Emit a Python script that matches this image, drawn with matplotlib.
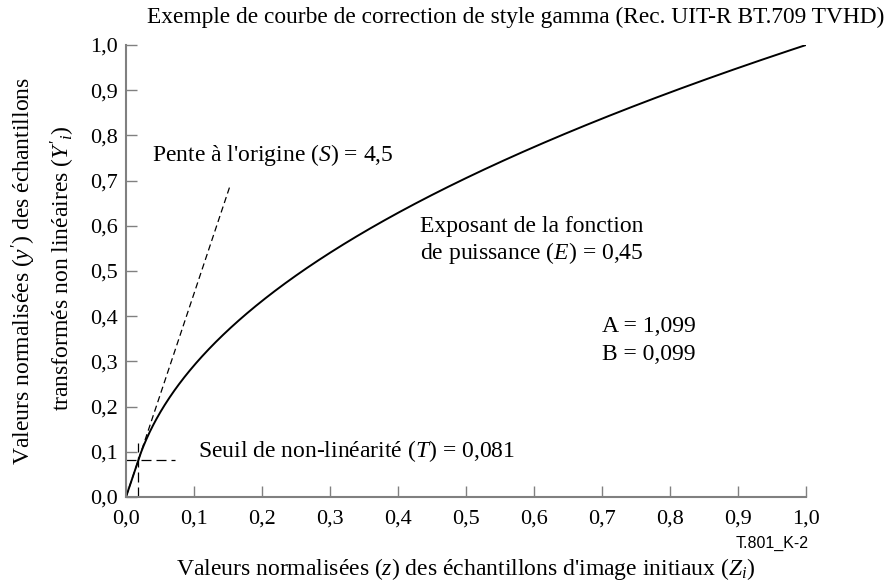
import numpy as np
import matplotlib
matplotlib.use("Agg")
import matplotlib.pyplot as plt
from matplotlib.ticker import FixedLocator, FuncFormatter

plt.rcParams["font.family"] = ["Liberation Serif", "DejaVu Serif"]
plt.rcParams["mathtext.fontset"] = "custom"
plt.rcParams["mathtext.rm"] = "Liberation Serif"
plt.rcParams["mathtext.it"] = "Liberation Serif:italic"

# Rec. BT.709 transfer characteristic parameters (as labelled)
slope_S = 4.5        # slope at the origin
threshold_T = 0.081  # non-linearity threshold on the output
exponent_E = 0.45    # power-function exponent
coef_A = 1.099
coef_B = 0.099

# Input threshold where the linear segment meets the power law
z_threshold = threshold_T / slope_S

tick_values = [0.0, 0.1, 0.2, 0.3, 0.4, 0.5, 0.6, 0.7, 0.8, 0.9, 1.0]
tick_labels = ["0,0", "0,1", "0,2", "0,3", "0,4", "0,5", "0,6", "0,7", "0,8", "0,9", "1,0"]

slope_line_end = 0.153   # extent of the dashed origin-slope line along z
thr_vline_top = 0.12     # height of the vertical threshold marker
thr_hline_end = 0.072    # length of the horizontal threshold marker

z = np.linspace(0, 1, 1001)
y = np.where(z < z_threshold, slope_S * z, coef_A * np.power(z, exponent_E) - coef_B)

W, H = 892, 588
fig = plt.figure(figsize=(W / 100, H / 100), dpi=100)
ax = fig.add_axes([126 / W, 1 - 497 / H, 680 / W, 452 / H])

ax.plot(z, y, color="black", lw=1.4, solid_capstyle="butt")

zs = np.array([0.0, slope_line_end])
ax.plot(zs, slope_S * zs, color="black", lw=0.9, linestyle=(0, (5, 3)))

ax.plot([z_threshold, z_threshold], [0, thr_vline_top], color="black", lw=0.9,
        linestyle=(0, (8, 4)))
ax.plot([0, thr_hline_end], [threshold_T, threshold_T], color="black", lw=0.9,
        linestyle=(0, (8, 4)))

ax.set_xlim(0, 1)
ax.set_ylim(0, 1)
for s in ("top", "right"):
    ax.spines[s].set_visible(False)
for s in ("left", "bottom"):
    ax.spines[s].set_color("#808080")
    ax.spines[s].set_linewidth(1.5)

ax.xaxis.set_major_locator(FixedLocator(tick_values))
ax.yaxis.set_major_locator(FixedLocator(tick_values))
fmt = FuncFormatter(lambda v, p: tick_labels[int(round(v * 10))])
ax.xaxis.set_major_formatter(fmt)
ax.yaxis.set_major_formatter(fmt)
ax.tick_params(direction="in", length=8, width=1.0, color="#808080",
               labelsize=16, colors="black")
ax.tick_params(axis="x", pad=9)
ax.tick_params(axis="y", pad=6)
for t in ax.get_xticklines() + ax.get_yticklines():
    t.set_color("#808080")

fs = 17
fig.text(516 / W, 1 - 17 / H,
         "Exemple de courbe de correction de style gamma (Rec. UIT-R BT.709 TVHD)",
         ha="center", va="center", fontsize=16.8)

fig.text(466 / W, 1 - 569 / H,
         r"Valeurs normalisées ($z$) des échantillons d'image initiaux ($Z_i$)",
         ha="center", va="center", fontsize=fs)

fig.text(24 / W, 1 - 271 / H,
         r"Valeurs normalisées ($y'$) des échantillons",
         ha="center", va="center", rotation=90, fontsize=fs)
fig.text(63 / W, 1 - 268 / H,
         r"transformés non linéaires ($Y'_i$)",
         ha="center", va="center", rotation=90, fontsize=fs)

fig.text(809 / W, 1 - 543 / H, "T.801_K-2", ha="right", va="center",
         fontsize=11.5, family="Liberation Sans")

fig.text(152 / W, 1 - 155 / H, r"Pente à l'origine ($S$) = 4,5",
         ha="left", va="center", fontsize=fs)
fig.text(420 / W, 1 - 227 / H, "Exposant de la fonction",
         ha="left", va="center", fontsize=fs)
fig.text(420 / W, 1 - 253 / H, r"de puissance ($E$) = 0,45",
         ha="left", va="center", fontsize=fs)
fig.text(602 / W, 1 - 327 / H, "A = 1,099", ha="left", va="center", fontsize=fs)
fig.text(602 / W, 1 - 354 / H, "B = 0,099", ha="left", va="center", fontsize=fs)
fig.text(198 / W, 1 - 451 / H, r"Seuil de non-linéarité ($T$) = 0,081",
         ha="left", va="center", fontsize=fs)

fig.savefig("out.png", dpi=100)
